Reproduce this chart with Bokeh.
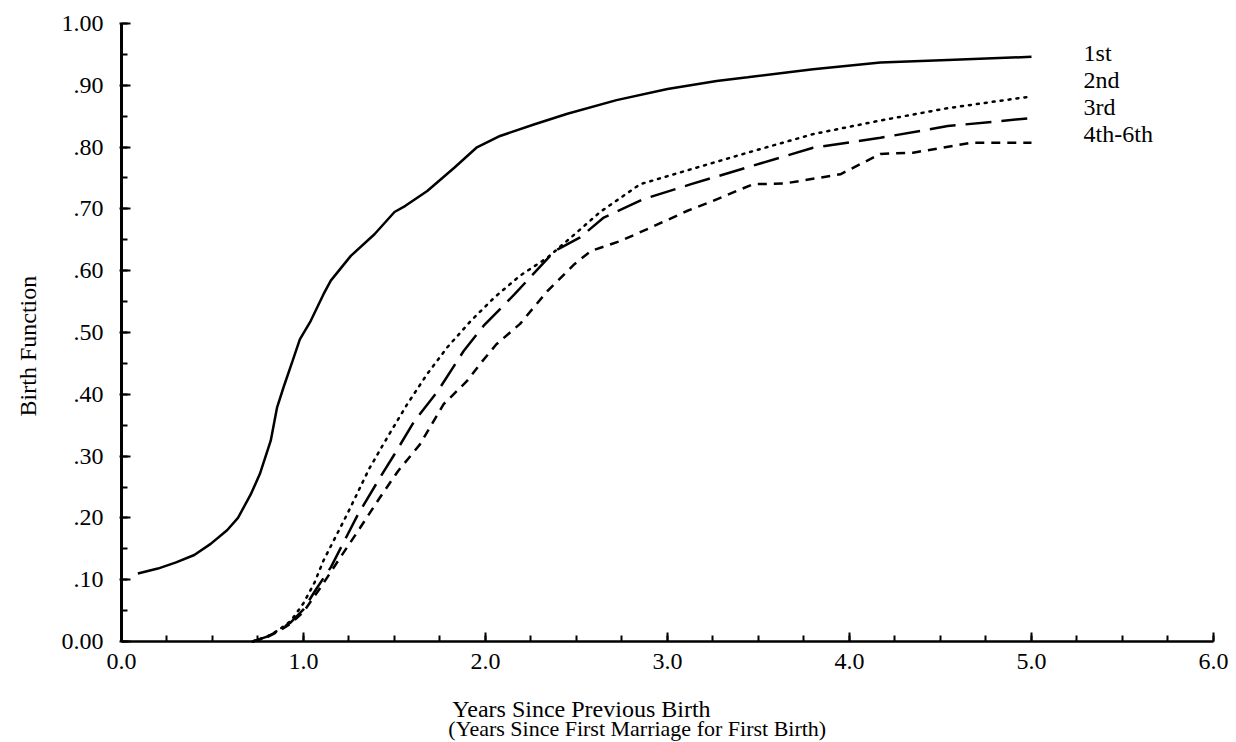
import math
from bokeh.plotting import figure
from bokeh.models import Range1d, FixedTicker, Label
from bokeh.embed import file_html
from bokeh.resources import INLINE

# ---- data ----
t_first = [0.09, 0.2, 0.3, 0.4, 0.49, 0.58, 0.64, 0.71, 0.76, 0.82, 0.855, 0.89, 0.94, 0.98,
           1.04, 1.11, 1.15, 1.26, 1.39, 1.5, 1.56, 1.68, 1.83, 1.95, 2.08, 2.27, 2.45, 2.72,
           3.0, 3.27, 3.44, 3.8, 4.17, 4.54, 5.0]
v_first = [0.11, 0.118, 0.128, 0.14, 0.158, 0.18, 0.20, 0.238, 0.271, 0.325, 0.379, 0.411, 0.454, 0.489,
           0.519, 0.562, 0.584, 0.624, 0.659, 0.695, 0.705, 0.729, 0.767, 0.799, 0.818, 0.837, 0.854, 0.876,
           0.894, 0.907, 0.913, 0.926, 0.937, 0.941, 0.946]

t_second = [0.72, 0.8, 0.86, 0.93, 1.0, 1.06, 1.11, 1.24, 1.36, 1.46, 1.57, 1.68, 1.79, 1.92, 2.05,
            2.19, 2.34, 2.49, 2.63, 2.85, 3.07, 3.44, 3.8, 4.17, 4.54, 5.0]
v_second = [0.0, 0.008, 0.018, 0.033, 0.062, 0.095, 0.131, 0.206, 0.279, 0.33, 0.384, 0.433, 0.476, 0.519, 0.557,
            0.592, 0.621, 0.659, 0.695, 0.74, 0.759, 0.791, 0.821, 0.843, 0.863, 0.882]

t_third = [0.72, 0.8, 0.86, 0.93, 1.0, 1.07, 1.15, 1.3, 1.42, 1.5, 1.61, 1.74, 1.88, 1.99, 2.16, 2.38,
           2.52, 2.65, 2.87, 3.13, 3.47, 3.8, 4.17, 4.54, 5.0]
v_third = [0.0, 0.008, 0.017, 0.031, 0.052, 0.085, 0.12, 0.206, 0.265, 0.303, 0.357, 0.406, 0.47, 0.511, 0.562, 0.632,
           0.654, 0.686, 0.716, 0.74, 0.77, 0.799, 0.815, 0.834, 0.847]

t_fourth = [0.72, 0.8, 0.86, 0.93, 1.0, 1.1, 1.2, 1.3, 1.42, 1.52, 1.64, 1.77, 1.9, 1.97, 2.06, 2.19,
            2.34, 2.49, 2.58, 2.74, 2.91, 3.11, 3.25, 3.47, 3.64, 3.95, 4.17, 4.35, 4.67, 5.0]
v_fourth = [0.0, 0.007, 0.016, 0.029, 0.048, 0.09, 0.135, 0.179, 0.233, 0.276, 0.319, 0.384, 0.422, 0.449, 0.481, 0.514,
            0.567, 0.611, 0.632, 0.648, 0.670, 0.697, 0.713, 0.74, 0.741, 0.756, 0.789, 0.791, 0.807, 0.807]

series_names = ["1st", "2nd", "3rd", "4th-6th"]
label_y = [0.953, 0.909, 0.865, 0.821]

x_ticks = [0, 1, 2, 3, 4, 5, 6]
x_tick_labels = ["0.0", "1.0", "2.0", "3.0", "4.0", "5.0", "6.0"]
y_ticks = [0.0, 0.1, 0.2, 0.3, 0.4, 0.5, 0.6, 0.7, 0.8, 0.9, 1.0]
y_tick_labels = ["0.00", ".10", ".20", ".30", ".40", ".50", ".60", ".70", ".80", ".90", "1.00"]
x_title_lines = ["Years Since Previous Birth", "(Years Since First Marriage for First Birth)"]
y_title = "Birth Function"

FONT = "'Liberation Serif', 'Times New Roman', Times, serif"

# the frame fills the whole page; both axes are drawn at 0 inside it
p = figure(width=1236, height=742, output_backend="svg", toolbar_location=None,
           x_range=Range1d(-0.6648, 6.1264), y_range=Range1d(-0.1634, 1.0372),
           min_border_left=0, min_border_right=0, min_border_top=0, min_border_bottom=0)
p.outline_line_color = None
p.xgrid.visible = False
p.ygrid.visible = False
p.background_fill_color = "white"
p.border_fill_color = "white"

# x axis
xa = p.xaxis[0]
xa.fixed_location = 0
xa.bounds = (0, 6)
xa.ticker = FixedTicker(ticks=x_ticks, minor_ticks=[i * 0.25 for i in range(25)])
xa.major_label_overrides = {t: s for t, s in zip(x_ticks, x_tick_labels)}
xa.axis_line_width = 2.5
xa.major_tick_in = 9
xa.major_tick_out = 0
xa.minor_tick_in = 6
xa.minor_tick_out = 0
xa.major_tick_line_width = 2
xa.minor_tick_line_width = 2
xa.major_label_standoff = 12
xa.major_label_text_font = FONT
xa.major_label_text_font_size = "24px"
xa.major_label_text_color = "black"

# y axis
ya = p.yaxis[0]
ya.fixed_location = 0
ya.bounds = (0, 1.0)
ya.ticker = FixedTicker(ticks=y_ticks, minor_ticks=[i * 0.05 for i in range(21)])
ya.major_label_overrides = {t: s for t, s in zip(y_ticks, y_tick_labels)}
ya.axis_line_width = 3
ya.major_tick_in = 9
ya.major_tick_out = 2
ya.minor_tick_in = 6
ya.minor_tick_out = 0
ya.major_tick_line_width = 2
ya.minor_tick_line_width = 2
ya.major_label_standoff = 16
ya.major_label_text_font = FONT
ya.major_label_text_font_size = "24px"
ya.major_label_text_color = "black"

# curves
p.line(t_first, v_first, line_color="black", line_width=2.5)
p.line(t_second, v_second, line_color="black", line_width=2.5, line_dash="2 6", line_cap="round")
p.line(t_third, v_third, line_color="black", line_width=2.5, line_dash="26 10")
p.line(t_fourth, v_fourth, line_color="black", line_width=2.5, line_dash="9 7")

# series labels at the right
for name, yy in zip(series_names, label_y):
    p.add_layout(Label(x=5.286, y=yy, text=name, text_font=FONT, text_font_size="24px",
                       text_baseline="middle", text_align="left", text_color="black"))

# y axis title
p.add_layout(Label(x=-0.515, y=0.478, text=y_title, angle=math.pi / 2, text_font=FONT,
                   text_font_size="24px", text_baseline="middle", text_align="center",
                   text_color="black"))

# x axis title: two left-aligned lines
p.add_layout(Label(x=1.818, y=-0.109, text=x_title_lines[0], text_font=FONT, text_font_size="24px",
                   text_baseline="middle", text_align="left", text_color="black"))
p.add_layout(Label(x=1.796, y=-0.140, text=x_title_lines[1], text_font=FONT, text_font_size="22px",
                   text_baseline="middle", text_align="left", text_color="black"))

open("out.html", "w").write(file_html(p, INLINE))
